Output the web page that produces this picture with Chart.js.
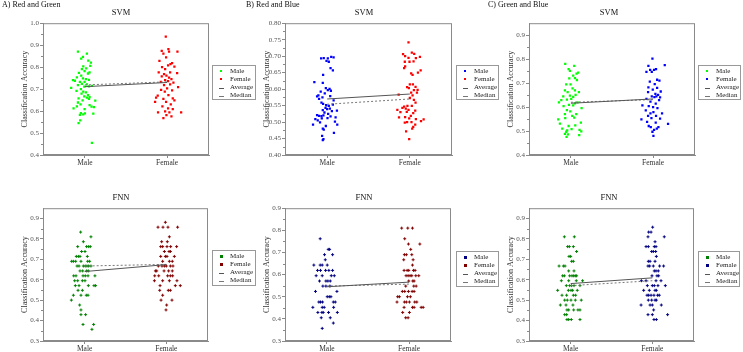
<!DOCTYPE html>
<html>
<head>
<meta charset="utf-8">
<script src="https://cdn.jsdelivr.net/npm/chart.js@4/dist/chart.umd.min.js"></script>
<style>
  body { margin: 0; background: #fff; }
  #fig { position: relative; width: 743px; height: 352px; overflow: hidden; font-family: "Liberation Serif", "Times New Roman", serif; color: #222; }
  #fig canvas { position: absolute; }
  .lbl { position: absolute; font-size: 8px; white-space: nowrap; line-height: 1; color: #111; will-change: transform; }
  .ttl { position: absolute; font-size: 8.5px; white-space: nowrap; line-height: 1; color: #111; transform: translate(-50%, -50%); will-change: transform; }
  .legend { position: absolute; border: 1px solid #999; box-sizing: border-box; background: #fff; will-change: transform; }
  .row { position: absolute; left: 0; font-size: 7px; line-height: 1; white-space: nowrap; color: #222; }
  .row span.t { position: absolute; left: 17px; top: -3.5px; }
  .mk { position: absolute; left: 7px; top: -1px; width: 2px; height: 2px; }
  .ln { position: absolute; left: 6px; top: 0; width: 5px; height: 0; }
</style>
</head>
<body>
<div id="fig"></div>
<script>
var GROUPS = ["Male", "Female"];
var LEGEND_LABELS = ["Male", "Female", "Average", "Median"];

// [jitter, accuracy]
var svmRG_male = [[-0.085,0.871],[0.024,0.861],[-0.024,0.847],[-0.045,0.839],[0.041,0.830],[0.073,0.820],[0.065,0.806],[-0.020,0.803],[0.016,0.794],[-0.037,0.791],[-0.004,0.782],[-0.073,0.774],[0.037,0.771],[0.057,0.776],[-0.045,0.761],[-0.098,0.753],[-0.024,0.749],[0.012,0.745],[0.049,0.742],[-0.146,0.741],[-0.122,0.738],[-0.061,0.733],[-0.004,0.733],[-0.037,0.724],[0.024,0.721],[-0.167,0.706],[-0.085,0.718],[-0.008,0.711],[0.049,0.712],[-0.049,0.700],[0.085,0.715],[-0.102,0.692],[-0.020,0.688],[0.012,0.685],[-0.041,0.679],[0.037,0.673],[-0.008,0.667],[0.024,0.661],[0.057,0.664],[-0.077,0.658],[0.126,0.647],[-0.028,0.649],[-0.085,0.639],[-0.053,0.630],[0.049,0.655],[-0.098,0.621],[0.057,0.627],[-0.004,0.609],[-0.138,0.612],[0.110,0.618],[-0.049,0.591],[-0.061,0.583],[-0.020,0.585],[0.102,0.588],[-0.077,0.545],[-0.057,0.558],[0.081,0.620],[0.000,0.589],[0.085,0.455]];
var svmRG_female = [[-0.016,0.939],[0.016,0.882],[-0.065,0.874],[0.024,0.871],[0.126,0.871],[-0.045,0.862],[-0.093,0.829],[-0.012,0.844],[0.041,0.814],[-0.061,0.800],[0.012,0.808],[0.061,0.818],[-0.024,0.791],[0.089,0.802],[-0.102,0.776],[-0.037,0.768],[0.037,0.776],[0.122,0.773],[-0.008,0.761],[-0.065,0.758],[0.024,0.752],[0.053,0.745],[-0.024,0.741],[0.012,0.736],[-0.077,0.733],[0.077,0.730],[-0.037,0.718],[0.037,0.721],[0.134,0.709],[0.000,0.703],[-0.073,0.697],[0.061,0.694],[-0.028,0.688],[-0.114,0.670],[-0.134,0.661],[0.016,0.673],[-0.045,0.656],[0.069,0.658],[0.089,0.649],[-0.012,0.642],[-0.146,0.642],[0.045,0.630],[-0.057,0.621],[0.012,0.612],[0.069,0.609],[-0.024,0.599],[-0.110,0.594],[0.028,0.594],[0.171,0.594],[-0.008,0.582],[0.053,0.576],[-0.045,0.568]];
var svmRG_avg = [0.711, 0.730];
var svmRG_med = [0.719, 0.733];
var svmRG_ticks = [0.4, 0.5, 0.6, 0.7, 0.8, 0.9, 1.0];

var svmRB_male = [[-0.073,0.693],[-0.041,0.694],[0.008,0.693],[0.049,0.698],[-0.008,0.686],[0.020,0.683],[0.078,0.696],[0.041,0.664],[0.069,0.657],[-0.049,0.643],[-0.155,0.621],[-0.053,0.619],[-0.016,0.603],[0.029,0.601],[0.008,0.597],[-0.078,0.592],[0.045,0.595],[-0.029,0.587],[-0.106,0.581],[-0.122,0.578],[-0.057,0.575],[-0.098,0.570],[0.037,0.579],[0.078,0.566],[-0.069,0.559],[-0.049,0.555],[-0.012,0.551],[0.020,0.549],[0.069,0.553],[-0.020,0.543],[0.000,0.539],[0.033,0.541],[-0.053,0.536],[0.057,0.533],[0.118,0.535],[-0.033,0.529],[0.012,0.525],[-0.122,0.521],[-0.098,0.519],[-0.069,0.518],[-0.045,0.520],[0.041,0.517],[-0.143,0.509],[-0.114,0.505],[-0.065,0.511],[0.004,0.512],[0.102,0.514],[-0.086,0.499],[0.094,0.501],[-0.171,0.492],[0.122,0.492],[-0.016,0.488],[-0.053,0.480],[-0.041,0.477],[-0.061,0.458],[-0.045,0.448],[-0.053,0.445],[0.082,0.467]];
var svmRB_female = [[-0.016,0.742],[-0.082,0.706],[0.024,0.711],[0.053,0.707],[-0.057,0.700],[-0.016,0.695],[0.073,0.694],[0.122,0.698],[-0.061,0.683],[-0.004,0.683],[0.045,0.684],[0.131,0.657],[-0.069,0.664],[-0.057,0.669],[0.016,0.648],[0.098,0.650],[0.033,0.643],[0.000,0.614],[0.037,0.614],[-0.033,0.606],[-0.012,0.603],[0.069,0.607],[0.049,0.597],[0.094,0.598],[0.016,0.589],[0.086,0.589],[-0.135,0.583],[0.033,0.581],[0.000,0.573],[0.049,0.567],[0.069,0.559],[-0.029,0.549],[-0.069,0.547],[0.024,0.549],[-0.090,0.543],[-0.049,0.541],[-0.016,0.537],[0.065,0.535],[-0.151,0.537],[-0.114,0.530],[-0.037,0.531],[0.041,0.527],[0.012,0.519],[-0.057,0.515],[-0.008,0.511],[0.073,0.509],[-0.131,0.514],[0.167,0.508],[0.135,0.503],[-0.033,0.500],[0.020,0.500],[-0.061,0.498],[0.065,0.492],[0.041,0.485],[0.029,0.480],[-0.045,0.472],[-0.008,0.448]];
var svmRB_avg = [0.570, 0.585];
var svmRB_med = [0.554, 0.570];
var svmRB_ticks = [0.40, 0.45, 0.50, 0.55, 0.60, 0.65, 0.70, 0.75, 0.80];

var svmGB_male = [[-0.069,0.780],[0.040,0.772],[-0.028,0.758],[-0.012,0.751],[0.069,0.740],[0.089,0.744],[0.028,0.731],[-0.020,0.720],[0.049,0.721],[0.073,0.713],[-0.057,0.695],[-0.004,0.695],[0.020,0.678],[0.049,0.670],[-0.073,0.670],[-0.040,0.662],[0.097,0.662],[-0.093,0.645],[-0.012,0.648],[0.057,0.651],[0.028,0.643],[-0.117,0.629],[-0.049,0.631],[0.004,0.634],[-0.146,0.620],[0.081,0.620],[0.049,0.615],[-0.024,0.609],[-0.089,0.604],[0.028,0.607],[0.130,0.596],[-0.049,0.587],[-0.008,0.582],[0.065,0.571],[-0.073,0.571],[0.016,0.563],[0.040,0.556],[-0.069,0.554],[-0.154,0.549],[0.121,0.535],[-0.134,0.531],[-0.028,0.521],[0.053,0.524],[-0.105,0.510],[0.105,0.505],[0.008,0.508],[-0.045,0.503],[0.126,0.499],[-0.057,0.497],[-0.073,0.488],[-0.036,0.486],[0.101,0.483],[-0.053,0.476]];
var svmGB_female = [[-0.008,0.802],[-0.057,0.772],[0.142,0.775],[-0.036,0.755],[0.012,0.755],[0.036,0.758],[-0.081,0.747],[-0.016,0.747],[0.049,0.714],[-0.040,0.706],[0.077,0.710],[0.020,0.696],[-0.057,0.682],[0.049,0.680],[-0.004,0.673],[0.093,0.665],[-0.061,0.662],[0.028,0.655],[0.061,0.651],[-0.016,0.645],[0.016,0.642],[0.040,0.645],[0.085,0.640],[0.073,0.629],[-0.081,0.634],[-0.032,0.623],[0.032,0.614],[-0.130,0.607],[-0.053,0.604],[0.000,0.600],[0.053,0.596],[-0.089,0.586],[0.004,0.579],[0.109,0.574],[-0.032,0.574],[-0.061,0.563],[0.036,0.563],[-0.020,0.554],[0.085,0.552],[-0.142,0.549],[-0.073,0.538],[0.032,0.535],[0.182,0.530],[-0.053,0.521],[-0.028,0.516],[0.065,0.516],[0.045,0.510],[0.012,0.505],[-0.008,0.497],[0.004,0.480]];
var svmGB_avg = [0.616, 0.634];
var svmGB_med = [0.620, 0.631];
var svmGB_ticks = [0.4, 0.5, 0.6, 0.7, 0.8, 0.9];

var fnnRG_male = [[-0.049,0.833],[0.077,0.810],[-0.016,0.786],[-0.085,0.762],[0.024,0.762],[0.049,0.762],[0.069,0.762],[-0.037,0.738],[0.004,0.738],[-0.102,0.714],[-0.077,0.714],[-0.057,0.714],[0.033,0.714],[-0.138,0.690],[-0.110,0.690],[-0.045,0.690],[0.037,0.690],[0.061,0.690],[-0.159,0.690],[-0.093,0.667],[-0.069,0.667],[-0.016,0.667],[0.008,0.667],[0.028,0.667],[0.049,0.667],[0.077,0.667],[-0.057,0.643],[-0.024,0.643],[0.024,0.643],[0.045,0.643],[-0.134,0.619],[-0.106,0.619],[-0.020,0.619],[0.008,0.619],[0.041,0.619],[0.126,0.619],[-0.122,0.595],[-0.085,0.595],[-0.028,0.595],[0.004,0.595],[-0.114,0.571],[-0.069,0.571],[0.045,0.571],[0.114,0.571],[0.134,0.571],[-0.081,0.548],[-0.028,0.548],[-0.138,0.524],[-0.045,0.524],[0.020,0.524],[0.041,0.524],[-0.163,0.500],[-0.061,0.476],[-0.045,0.452],[-0.045,0.429],[0.012,0.429],[-0.020,0.381],[0.110,0.381],[0.089,0.357]];
var fnnRG_female = [[-0.012,0.881],[-0.102,0.857],[-0.041,0.857],[0.020,0.857],[0.138,0.857],[0.037,0.810],[-0.057,0.786],[0.012,0.786],[-0.069,0.762],[-0.045,0.762],[0.008,0.762],[0.053,0.762],[0.126,0.762],[-0.024,0.738],[0.033,0.738],[0.049,0.738],[-0.069,0.714],[-0.012,0.714],[0.008,0.714],[0.098,0.714],[-0.045,0.690],[0.037,0.690],[0.073,0.690],[-0.024,0.667],[0.000,0.667],[0.049,0.667],[0.081,0.667],[-0.098,0.667],[-0.053,0.667],[-0.134,0.643],[-0.118,0.643],[-0.028,0.643],[0.028,0.643],[0.073,0.643],[-0.142,0.619],[-0.093,0.619],[0.016,0.619],[0.049,0.619],[0.077,0.619],[-0.146,0.595],[-0.045,0.595],[0.037,0.595],[0.130,0.595],[-0.077,0.571],[0.110,0.571],[0.171,0.571],[-0.081,0.548],[0.024,0.548],[0.049,0.548],[-0.045,0.524],[-0.065,0.500],[0.069,0.500],[0.004,0.476],[-0.004,0.452]];
var fnnRG_avg = [0.640, 0.674];
var fnnRG_med = [0.667, 0.675];
var fnnRG_ticks = [0.3, 0.4, 0.5, 0.6, 0.7, 0.8, 0.9];

var fnnRB_male = [[-0.082,0.762],[0.016,0.714],[0.033,0.714],[-0.029,0.690],[0.069,0.690],[-0.020,0.667],[-0.159,0.643],[-0.082,0.643],[-0.057,0.643],[0.004,0.643],[-0.114,0.619],[-0.078,0.619],[-0.016,0.619],[0.024,0.619],[0.069,0.619],[-0.131,0.595],[-0.057,0.595],[0.053,0.595],[0.090,0.595],[-0.090,0.571],[-0.012,0.571],[0.012,0.571],[0.041,0.571],[-0.049,0.548],[-0.012,0.548],[0.037,0.548],[-0.139,0.524],[0.122,0.524],[0.004,0.500],[0.029,0.500],[0.049,0.500],[-0.098,0.476],[-0.078,0.476],[-0.053,0.476],[0.078,0.476],[0.102,0.476],[-0.171,0.452],[-0.057,0.452],[-0.033,0.452],[0.082,0.452],[-0.110,0.429],[-0.061,0.429],[-0.045,0.429],[0.020,0.429],[0.127,0.429],[-0.069,0.405],[0.041,0.405],[0.078,0.381],[-0.057,0.357]];
var fnnRB_female = [[-0.090,0.810],[-0.016,0.810],[0.041,0.810],[-0.053,0.762],[-0.008,0.738],[0.131,0.738],[0.020,0.714],[-0.057,0.690],[-0.033,0.690],[0.033,0.690],[-0.065,0.667],[0.049,0.667],[0.041,0.643],[-0.061,0.619],[-0.024,0.619],[-0.004,0.619],[0.053,0.619],[0.073,0.619],[-0.037,0.595],[-0.012,0.595],[0.012,0.595],[0.033,0.595],[0.082,0.595],[0.118,0.595],[-0.004,0.571],[0.045,0.571],[0.061,0.571],[-0.041,0.548],[0.057,0.548],[0.086,0.548],[-0.082,0.524],[-0.053,0.524],[-0.008,0.524],[0.037,0.524],[0.061,0.524],[-0.139,0.500],[-0.118,0.500],[-0.020,0.500],[0.016,0.500],[-0.147,0.476],[-0.057,0.476],[-0.033,0.476],[0.004,0.476],[0.069,0.476],[0.094,0.476],[-0.061,0.452],[0.041,0.452],[0.061,0.452],[0.147,0.452],[0.171,0.452],[-0.078,0.429],[0.004,0.429],[-0.041,0.405],[-0.012,0.405]];
var fnnRB_avg = [0.545, 0.566];
var fnnRB_med = [0.548, 0.557];
var fnnRB_ticks = [0.3, 0.4, 0.5, 0.6, 0.7, 0.8, 0.9];

var fnnGB_male = [[-0.077,0.810],[0.045,0.810],[-0.037,0.762],[-0.016,0.762],[0.033,0.762],[0.073,0.738],[-0.020,0.714],[0.000,0.714],[0.012,0.690],[0.033,0.690],[-0.142,0.667],[-0.089,0.667],[-0.069,0.667],[-0.024,0.643],[0.041,0.643],[-0.098,0.619],[-0.077,0.619],[-0.012,0.619],[0.016,0.619],[0.037,0.619],[0.057,0.619],[0.073,0.619],[-0.114,0.595],[-0.024,0.595],[0.069,0.595],[0.146,0.595],[-0.053,0.571],[-0.012,0.571],[0.012,0.571],[0.041,0.571],[0.114,0.571],[-0.159,0.548],[-0.028,0.548],[0.004,0.548],[0.024,0.548],[0.081,0.548],[-0.106,0.524],[-0.049,0.524],[0.033,0.524],[0.061,0.524],[-0.073,0.500],[-0.041,0.500],[0.004,0.500],[0.057,0.500],[0.130,0.500],[-0.126,0.476],[-0.057,0.476],[0.028,0.476],[-0.045,0.452],[-0.024,0.452],[0.037,0.452],[0.089,0.452],[0.114,0.452],[-0.073,0.429],[-0.049,0.429],[-0.045,0.405],[-0.024,0.405],[0.008,0.405],[0.114,0.405]];
var fnnGB_female = [[0.004,0.857],[-0.045,0.833],[-0.016,0.833],[-0.053,0.810],[0.146,0.810],[0.033,0.786],[-0.077,0.762],[-0.049,0.762],[0.024,0.762],[0.045,0.762],[-0.008,0.738],[0.012,0.738],[0.041,0.738],[0.049,0.714],[-0.049,0.690],[-0.028,0.690],[0.033,0.690],[-0.053,0.667],[-0.033,0.667],[0.012,0.667],[0.089,0.667],[0.138,0.667],[0.024,0.643],[0.045,0.643],[0.073,0.643],[-0.004,0.619],[0.057,0.619],[0.077,0.619],[-0.134,0.595],[-0.077,0.595],[0.045,0.595],[0.106,0.595],[-0.061,0.571],[0.000,0.571],[0.024,0.571],[0.069,0.571],[0.159,0.571],[-0.106,0.548],[-0.037,0.548],[0.033,0.548],[0.049,0.548],[-0.065,0.524],[-0.045,0.524],[-0.016,0.524],[0.020,0.524],[0.065,0.524],[0.085,0.524],[-0.049,0.500],[-0.008,0.500],[0.033,0.500],[0.049,0.500],[-0.138,0.476],[-0.028,0.476],[0.000,0.476],[0.110,0.476],[0.016,0.452],[-0.053,0.429],[0.000,0.429],[0.187,0.429],[0.020,0.405],[0.049,0.405]];
var fnnGB_avg = [0.581, 0.609];
var fnnGB_med = [0.571, 0.595];
var fnnGB_ticks = [0.3, 0.4, 0.5, 0.6, 0.7, 0.8, 0.9];

var FONT = '"Liberation Serif", "Times New Roman", serif';
var AXIS_GREY = "#8a8a8a";

// plot boxes are [left, top, width, height] of the chart area on the page
var panels = [
  { pts: [svmRG_male, svmRG_female], avg: svmRG_avg, med: svmRG_med, ticks: svmRG_ticks, yMax: 1.0, dec: 1,
    colors: ["#00ff00", "#ff0000"], marker: "rect", title: "SVM", box: [43, 22, 166, 133], tx: 121, ty: 11.5, legend: [212, 65, 44, 35] },
  { pts: [svmRB_male, svmRB_female], avg: svmRB_avg, med: svmRB_med, ticks: svmRB_ticks, yMax: 0.8, dec: 2,
    colors: ["#0000ff", "#ff0000"], marker: "rect", title: "SVM", box: [285, 22, 167, 133], tx: 364, ty: 11.5, legend: [456, 65, 43, 35] },
  { pts: [svmGB_male, svmGB_female], avg: svmGB_avg, med: svmGB_med, ticks: svmGB_ticks, yMax: 0.95, dec: 1,
    colors: ["#00ff00", "#0000ff"], marker: "rect", title: "SVM", box: [529, 22, 166, 133], tx: 609, ty: 11.5, legend: [698, 65, 43, 35] },
  { pts: [fnnRG_male, fnnRG_female], avg: fnnRG_avg, med: fnnRG_med, ticks: fnnRG_ticks, yMax: 0.95, dec: 1,
    colors: ["#008000", "#800000"], marker: "cross", title: "FNN", box: [43, 207, 166, 134], tx: 121, ty: 197, legend: [212, 250, 44, 36] },
  { pts: [fnnRB_male, fnnRB_female], avg: fnnRB_avg, med: fnnRB_med, ticks: fnnRB_ticks, yMax: 0.9, dec: 1,
    colors: ["#000080", "#800000"], marker: "cross", title: "FNN", box: [285, 207, 167, 134], tx: 364, ty: 197, legend: [456, 251, 43, 36] },
  { pts: [fnnGB_male, fnnGB_female], avg: fnnGB_avg, med: fnnGB_med, ticks: fnnGB_ticks, yMax: 0.95, dec: 1,
    colors: ["#008000", "#000080"], marker: "cross", title: "FNN", box: [529, 207, 166, 134], tx: 609, ty: 197, legend: [698, 251, 42, 36] }
];

var panelLabels = [["A) Red and Green", 2], ["B) Red and Blue", 246], ["C) Green and Blue", 488]];

var fig = document.getElementById("fig");

panelLabels.forEach(function (p) {
  var d = document.createElement("div");
  d.className = "lbl";
  d.textContent = p[0];
  d.style.left = p[1] + "px";
  d.style.top = "1px";
  fig.appendChild(d);
});

// frame round the plot area and small minor ticks on the y axis
var framePlugin = {
  id: "frame",
  afterDraw: function (chart) {
    var a = chart.chartArea, ctx = chart.ctx, y = chart.scales.y;
    ctx.save();
    ctx.strokeStyle = AXIS_GREY;
    ctx.lineWidth = 1;
    ctx.strokeRect(a.left + 0.5, a.top + 0.5, a.right - a.left - 1, a.bottom - a.top - 1);
    ctx.beginPath();
    for (var i = 0; i < y.ticks.length - 1; i++) {
      var mid = (y.ticks[i].value + y.ticks[i + 1].value) / 2;
      var py = Math.round(y.getPixelForValue(mid)) + 0.5;
      ctx.moveTo(a.left - 2, py);
      ctx.lineTo(a.left, py);
    }
    ctx.stroke();
    ctx.restore();
  }
};

function toPoints(list, group) {
  return list.map(function (p) { return { x: group + 1 + p[0], y: p[1] }; });
}

panels.forEach(function (p) {
  var b = p.box;
  var c = document.createElement("canvas");
  var w = b[2] + 28, h = b[3] + 20;
  c.width = w; c.height = h;
  c.style.left = (b[0] - 24) + "px";
  c.style.top = (b[1] - 4) + "px";
  c.style.width = w + "px";
  c.style.height = h + "px";
  fig.appendChild(c);

  var t = document.createElement("div");
  t.className = "ttl";
  t.textContent = p.title;
  t.style.left = p.tx + "px";
  t.style.top = p.ty + "px";
  fig.appendChild(t);

  var isRect = p.marker === "rect";
  var pointSets = [0, 1].map(function (g) {
    return {
      label: GROUPS[g],
      data: toPoints(p.pts[g], g),
      pointStyle: p.marker,
      radius: isRect ? 1.6 : 1.5,
      backgroundColor: p.colors[g],
      borderColor: p.colors[g],
      borderWidth: isRect ? 0 : 1
    };
  });

  new Chart(c, {
    type: "scatter",
    data: {
      datasets: [
        { type: "line", label: "Average", data: [{ x: 1, y: p.avg[0] }, { x: 2, y: p.avg[1] }],
          borderColor: "#555", borderWidth: 1, pointRadius: 0 },
        { type: "line", label: "Median", data: [{ x: 1, y: p.med[0] }, { x: 2, y: p.med[1] }],
          borderColor: "#777", borderWidth: 1, borderDash: [2, 2], pointRadius: 0 }
      ].concat(pointSets)
    },
    options: {
      responsive: false,
      animation: false,
      devicePixelRatio: 1,
      layout: { padding: { top: 4, right: 4, left: 0, bottom: 0 } },
      plugins: { legend: { display: false }, tooltip: { enabled: false } },
      scales: {
        x: {
          type: "linear", min: 0.49, max: 2.51,
          afterBuildTicks: function (s) { s.ticks = [{ value: 1 }, { value: 2 }]; },
          afterFit: function (s) { s.height = 16; },
          ticks: { color: "#333", font: { family: FONT, size: 7.5 }, padding: 1, maxRotation: 0,
                   callback: function (v) { return GROUPS[Math.round(v) - 1]; } },
          grid: { drawOnChartArea: false, tickLength: 3, color: AXIS_GREY },
          border: { color: AXIS_GREY }
        },
        y: {
          min: p.ticks[0], max: p.yMax,
          afterBuildTicks: function (s) { s.ticks = p.ticks.map(function (v) { return { value: v }; }); },
          afterFit: function (s) { s.width = 24; },
          ticks: { color: "#555", font: { family: FONT, size: 7 }, padding: 1,
                   callback: function (v) { return v.toFixed(p.dec); } },
          grid: { drawOnChartArea: false, tickLength: 3, color: AXIS_GREY },
          border: { color: AXIS_GREY },
          title: { display: true, text: "Classification Accuracy", color: "#333",
                   font: { family: FONT, size: 8 }, padding: { top: 1, bottom: 0 } }
        }
      }
    },
    plugins: [framePlugin]
  });

  // legend box
  var L = p.legend;
  var lg = document.createElement("div");
  lg.className = "legend";
  lg.style.left = L[0] + "px"; lg.style.top = L[1] + "px";
  lg.style.width = L[2] + "px"; lg.style.height = L[3] + "px";
  LEGEND_LABELS.forEach(function (name, i) {
    var r = document.createElement("div");
    r.className = "row";
    r.style.top = (5 + i * 8.3) + "px";
    var m = document.createElement("span");
    if (i < 2) {
      m.className = "mk";
      m.style.background = p.colors[i];
      if (!isRect) { m.style.width = "3px"; m.style.height = "3px"; m.style.left = "6.5px"; m.style.top = "-1.5px"; }
    } else {
      m.className = "ln";
      m.style.borderTop = "1px " + (i === 2 ? "solid #555" : "dashed #777");
    }
    var s = document.createElement("span");
    s.className = "t";
    s.textContent = name;
    r.appendChild(m); r.appendChild(s);
    lg.appendChild(r);
  });
  fig.appendChild(lg);
});
</script>
</body>
</html>
